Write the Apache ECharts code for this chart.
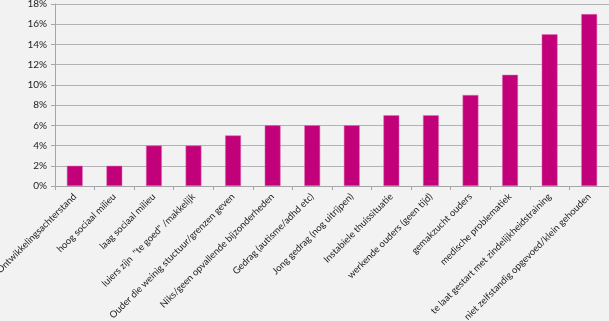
<!DOCTYPE html>
<html><head><meta charset="utf-8">
<script src="https://cdn.jsdelivr.net/npm/echarts@6/dist/echarts.min.js"></script>
<style>html,body{margin:0;padding:0;background:#f2f2f2}#c{width:609px;height:321px}</style>
</head><body><div id="c"></div>
<script>
const categories = [
  "Ontwikkelingsachterstand",
  "hoog sociaal milieu",
  "laag sociaal milieu",
  "luiers zijn  \"te goed\" /makkelijk",
  "Ouder die weinig stuctuur/grenzen geven",
  "Niks/geen opvallende bijzonderheden",
  "Gedrag (autisme/adhd etc)",
  "Jong gedrag (nog uitrijpen)",
  "Instabiele thuissituatie",
  "werkende ouders (geen tijd)",
  "gemakzucht ouders",
  "medische problematiek",
  "te laat gestart met zindelijkheidstraining",
  "niet zelfstandig opgevoed/klein gehouden"
];
const values = [2, 2, 4, 4, 5, 6, 6, 6, 7, 7, 9, 11, 15, 17];
const yTicks = [0, 2, 4, 6, 8, 10, 12, 14, 16, 18];

const chart = echarts.init(document.getElementById('c'));
chart.setOption({
  backgroundColor: '#f2f2f2',
  animation: false,
  grid: {left: 55, right: 0, top: 4, bottom: 135, containLabel: false, outerBoundsMode: 'none'},
  xAxis: {
    type: 'category', data: categories,
    axisLine: {lineStyle: {color: '#a6a6a6'}},
    axisTick: {show: true, length: 4, lineStyle: {color: '#a6a6a6'}},
    axisLabel: {rotate: 45, interval: 0, margin: 9, color: '#222', fontSize: 9.5, fontFamily: 'Lato'}
  },
  yAxis: {
    type: 'value', min: yTicks[0], max: yTicks[yTicks.length - 1], interval: 2,
    axisLine: {show: true, lineStyle: {color: '#a6a6a6'}},
    axisTick: {show: true, length: 4, lineStyle: {color: '#a6a6a6'}},
    splitLine: {lineStyle: {color: '#b3b3b3'}},
    axisLabel: {formatter: '{value}%', color: '#222', fontSize: 10, fontFamily: 'Lato', margin: 8}
  },
  series: [{
    type: 'bar', data: values, barWidth: '40%',
    itemStyle: {color: '#c2007a', borderColor: '#e070b0', borderWidth: 0.5}
  }]
});
</script></body></html>
